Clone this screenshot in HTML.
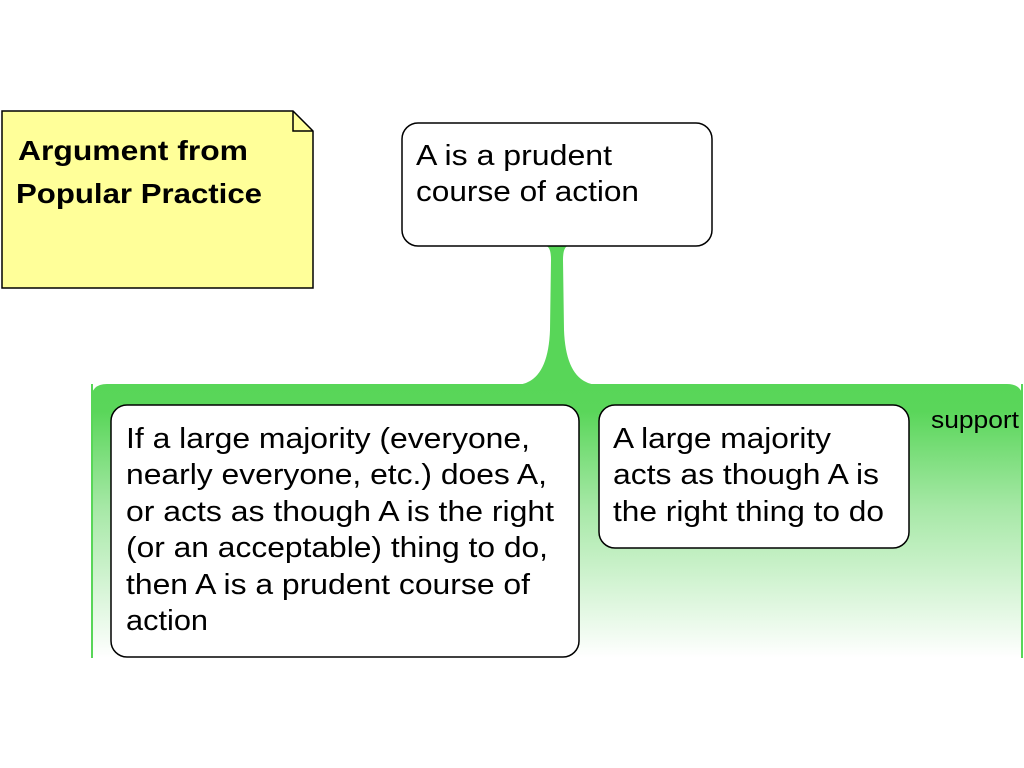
<!DOCTYPE html>
<html><head><meta charset="utf-8"><style>
html,body{margin:0;padding:0;background:#fff;width:1024px;height:768px;overflow:hidden}
svg{display:block}
text{font-family:"Liberation Sans",sans-serif}
</style></head><body>
<svg width="1024" height="768" viewBox="0 0 1024 768" xmlns="http://www.w3.org/2000/svg">
<defs>
<linearGradient id="g" x1="0" y1="0" x2="0" y2="1">
<stop offset="0" stop-color="#58d658"/>
<stop offset="0.1" stop-color="#5ad65a"/>
<stop offset="0.45" stop-color="#a6e8a6"/>
<stop offset="1" stop-color="#ffffff"/>
</linearGradient>
</defs>
<path d="M91 658 L91 400 Q91 384 107 384 L1007 384 Q1023 384 1023 400 L1023 658 Z" fill="url(#g)"/>
<rect x="91" y="384" width="2" height="274" fill="#58d658"/>
<rect x="1021" y="384" width="2" height="274" fill="#58d658"/>
<path d="M514 385 Q548 385 550 330 L551 260 Q551 247 546 246 L568 246 Q563 247 563 260 L564 330 Q566 385 600 385 Z" fill="#58d658"/>
<path d="M2 111 L293 111 L313 131 L313 288 L2 288 Z" fill="#ffff99" stroke="#000" stroke-width="1.5"/>
<path d="M293 111 L293 131 L313 131" fill="none" stroke="#000" stroke-width="1.5"/>
<text x="18" y="160" font-size="28" font-weight="bold" textLength="230" lengthAdjust="spacingAndGlyphs">Argument from</text>
<text x="16" y="203" font-size="28" font-weight="bold" textLength="246" lengthAdjust="spacingAndGlyphs">Popular Practice</text>
<rect x="402" y="123" width="310" height="123" rx="16" fill="#fff" stroke="#000" stroke-width="1.5"/>
<text x="416" y="165" font-size="29" textLength="196" lengthAdjust="spacingAndGlyphs">A is a prudent</text>
<text x="416" y="201" font-size="29" textLength="223" lengthAdjust="spacingAndGlyphs">course of action</text>
<rect x="111" y="405" width="468" height="252" rx="16" fill="#fff" stroke="#000" stroke-width="1.5"/>
<g font-size="29">
<text x="126" y="448" textLength="404" lengthAdjust="spacingAndGlyphs">If a large majority (everyone,</text>
<text x="126" y="484" textLength="421" lengthAdjust="spacingAndGlyphs">nearly everyone, etc.) does A,</text>
<text x="126" y="521" textLength="428" lengthAdjust="spacingAndGlyphs">or acts as though A is the right</text>
<text x="126" y="557" textLength="422" lengthAdjust="spacingAndGlyphs">(or an acceptable) thing to do,</text>
<text x="126" y="594" textLength="404" lengthAdjust="spacingAndGlyphs">then A is a prudent course of</text>
<text x="126" y="630" textLength="82" lengthAdjust="spacingAndGlyphs">action</text>
</g>
<rect x="599" y="405" width="310" height="143" rx="16" fill="#fff" stroke="#000" stroke-width="1.5"/>
<g font-size="29">
<text x="613" y="448" textLength="218" lengthAdjust="spacingAndGlyphs">A large majority</text>
<text x="613" y="484" textLength="266" lengthAdjust="spacingAndGlyphs">acts as though A is</text>
<text x="613" y="521" textLength="271" lengthAdjust="spacingAndGlyphs">the right thing to do</text>
</g>
<text x="931" y="428" font-size="24" textLength="88" lengthAdjust="spacingAndGlyphs">support</text>
</svg>
</body></html>
